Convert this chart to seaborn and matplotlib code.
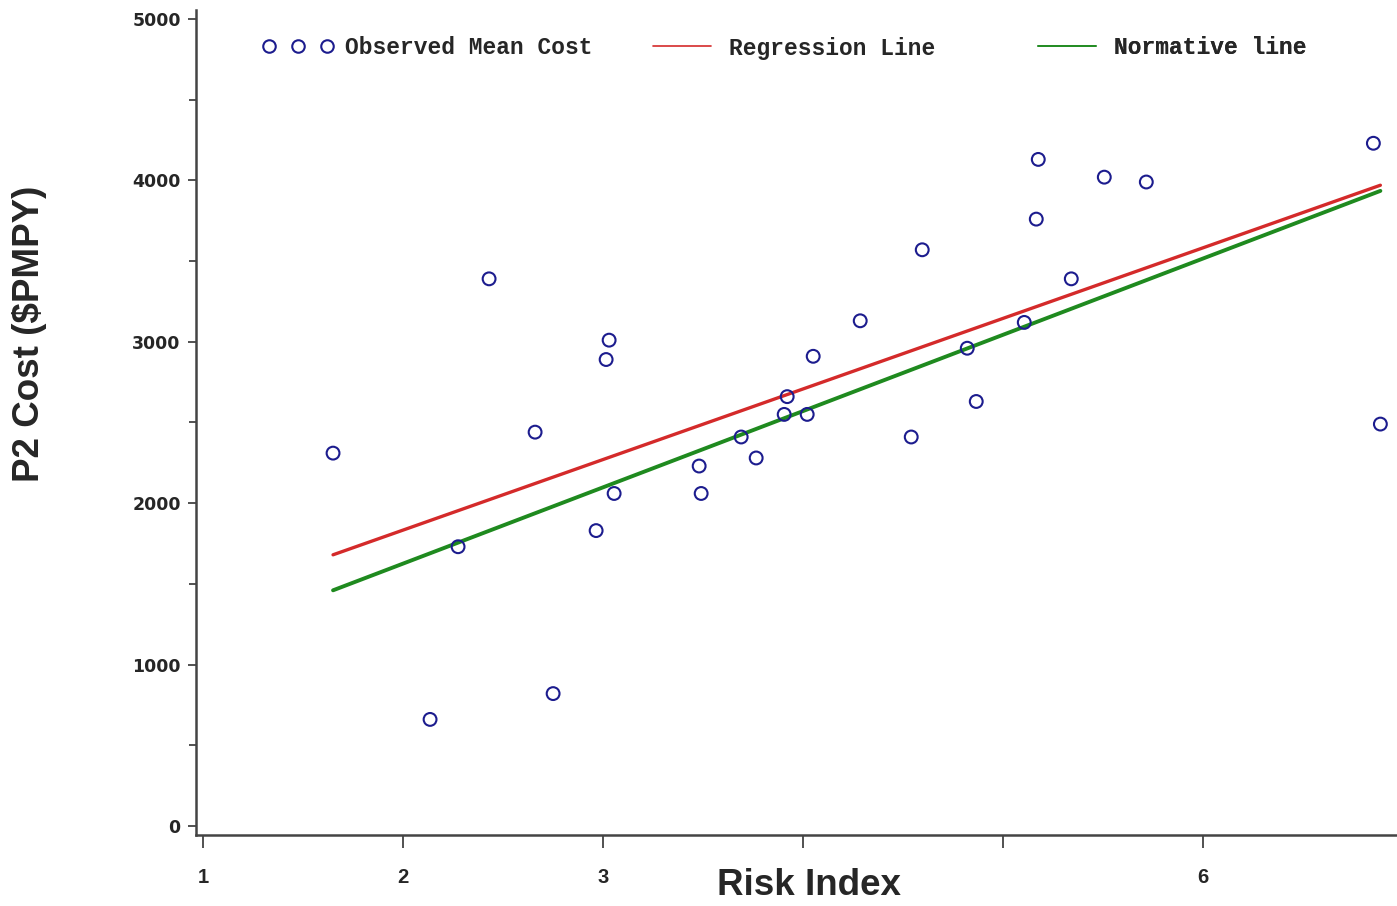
import numpy as np
import pandas as pd
import seaborn as sns
import matplotlib.pyplot as plt
from matplotlib.lines import Line2D

# observed mean cost per risk index group
risk_index = [1.65, 2.135, 2.275, 2.43, 2.66, 2.75, 2.965, 3.015, 3.03, 3.055,
              3.48, 3.49, 3.69, 3.765, 3.905, 3.92, 4.02, 4.05, 4.285, 4.54,
              4.595, 4.82, 4.865, 5.105, 5.165, 5.175, 5.34, 5.505, 5.715,
              6.85, 6.885]
mean_cost = [2310, 660, 1730, 3390, 2440, 820, 1830, 2890, 3010, 2060,
             2230, 2060, 2410, 2280, 2550, 2660, 2550, 2910, 3130, 2410,
             3570, 2960, 2630, 3120, 3760, 4130, 3390, 4020, 3990,
             4230, 2490]

line_x = [1.65, 6.885]
regression_y = [1680, 3970]
normative_y = [1460, 3935]

x_ticks = [1, 2, 3, 4, 5, 6, 7]
x_tick_labels = ["1", "2", "3", "", "", "6", "7"]
y_ticks = [0, 1000, 2000, 3000, 4000, 5000]

navy = "#1c1c8e"
red = "#d42a2a"
green = "#1f8a1f"

df_pts = pd.DataFrame({"Risk Index": risk_index, "Cost": mean_cost})
df_reg = pd.DataFrame({"Risk Index": line_x, "Cost": regression_y})
df_norm = pd.DataFrame({"Risk Index": line_x, "Cost": normative_y})

sns.set_style("white")
fig = plt.figure(figsize=(13.97, 9.06), dpi=100)
ax = fig.add_axes([0.1403, 0.0784, 0.87, 0.9106])

sns.lineplot(data=df_norm, x="Risk Index", y="Cost", color=green, lw=2.8, ax=ax)
sns.lineplot(data=df_reg, x="Risk Index", y="Cost", color=red, lw=2.4, ax=ax)
sns.scatterplot(data=df_pts, x="Risk Index", y="Cost", marker="o", s=85,
                facecolor="none", edgecolor=navy, linewidth=1.5, ax=ax,
                legend=False, zorder=3)

ax.set_xlim(0.965, 7.04)
ax.set_ylim(-56, 5056)
ax.set_xticks(x_ticks)
ax.set_xticklabels(x_tick_labels, fontfamily="Liberation Sans",
                   fontweight="bold", fontsize=14.5)
ax.set_yticks(y_ticks)
ax.set_yticks(np.arange(500, 5000, 1000), minor=True)
ax.set_yticklabels([str(v) for v in y_ticks], fontfamily="DejaVu Sans",
                   fontweight="bold", fontsize=12.5)
ax.tick_params(axis="x", which="major", direction="out", length=9, width=1.2,
               pad=15, color="#333333", bottom=True)
ax.tick_params(axis="y", which="major", direction="out", length=6, width=1.2,
               pad=5, color="#333333", left=True)
ax.tick_params(axis="y", which="minor", direction="out", length=5, width=1.2,
               color="#333333", left=True)

sns.despine(ax=ax)
for s in ["left", "bottom"]:
    ax.spines[s].set_color("#444444")
    ax.spines[s].set_linewidth(1.8)

ax.set_xlabel("Risk Index", fontfamily="Liberation Sans", fontweight="bold",
              fontsize=26.5)
ax.xaxis.set_label_coords(0.504, -0.040)
ax.set_ylabel("")
fig.text(30 / 1397, 1 - 334 / 906, "P2 Cost ($PMPY)", rotation=90,
         ha="center", va="center", fontfamily="Liberation Sans",
         fontweight="bold", fontsize=26.5)

# legend: three evenly spaced entries across the top
entries = [
    (Line2D([], [], marker="o", ls="", mfc="none", mec=navy, mew=1.5, ms=9),
     "Observed Mean Cost", 262),
    (Line2D([], [], color=red, lw=1.2), "Regression Line", 646),
    (Line2D([], [], color=green, lw=1.2), "Normative line", 1031),
]
for handle, label, px in entries:
    leg = ax.legend([handle], [label], loc="center left",
                    bbox_to_anchor=(px / 1397, 1 - 48 / 906),
                    bbox_transform=fig.transFigure, frameon=False,
                    borderpad=0, borderaxespad=0, numpoints=3,
                    handlelength=3.14, handletextpad=0.48,
                    prop={"family": "Liberation Mono", "weight": "bold",
                          "size": 16.5})
    ax.add_artist(leg)

fig.savefig("out.png", dpi=100)
